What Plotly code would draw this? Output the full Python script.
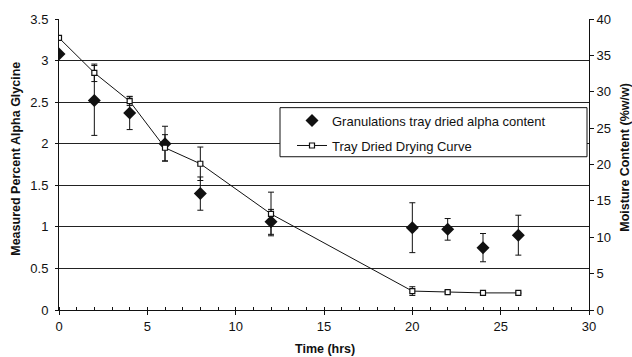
import plotly.graph_objects as go

# Alpha glycine content (left axis)
alpha_time = [0, 2, 4, 6, 8, 12, 20, 22, 24, 26]
alpha_value = [3.08, 2.52, 2.37, 2.00, 1.40, 1.06, 0.99, 0.97, 0.75, 0.90]
alpha_err = [0.0, 0.42, 0.20, 0.21, 0.20, 0.15, 0.30, 0.13, 0.17, 0.24]

# Moisture content drying curve (right axis)
moist_time = [0, 2, 4, 6, 8, 12, 20, 22, 24, 26]
moist_value = [37.4, 32.6, 28.7, 22.3, 20.1, 13.2, 2.6, 2.45, 2.35, 2.35]
moist_err = [0.0, 1.2, 0.6, 1.8, 2.3, 3.0, 0.6, 0.2, 0.1, 0.1]

FONT = "Liberation Sans, Arial, sans-serif"
INK = "#111111"

fig = go.Figure()

fig.add_trace(go.Scatter(
    x=alpha_time, y=alpha_value, mode="markers",
    name="Granulations tray dried alpha content",
    legendgroup="a",
    marker=dict(symbol="diamond", size=10, color=INK),
    error_y=dict(type="data", array=alpha_err, visible=True,
                 color=INK, thickness=1, width=3),
    yaxis="y",
))

fig.add_trace(go.Scatter(
    x=moist_time, y=moist_value, mode="lines+markers",
    name="Tray Dried Drying Curve",
    legendgroup="b",
    line=dict(color=INK, width=1),
    marker=dict(symbol="square", size=5, color="white",
                line=dict(color=INK, width=1.2)),
    error_y=dict(type="data", array=moist_err, visible=True,
                 color=INK, thickness=1, width=3),
    yaxis="y2",
))

fig.update_layout(
    width=632, height=357,
    margin=dict(l=59, r=43, t=19, b=47),
    paper_bgcolor="white", plot_bgcolor="white",
    font=dict(family=FONT, size=13, color=INK),
    showlegend=True,
    legend=dict(
        x=(292 - 59) / 530, xanchor="left", y=(310 - 106) / 290.5, yanchor="top",
        borderwidth=0, bgcolor="rgba(0,0,0,0)",
        font=dict(family=FONT, size=13, color=INK),
        tracegroupgap=5,
    ),
    shapes=[dict(
        type="rect", xref="paper", yref="paper",
        x0=(280 - 59) / 530, x1=(587 - 59) / 530,
        y0=(310 - 157) / 290.5, y1=(310 - 108) / 290.5,
        line=dict(color=INK, width=1), fillcolor="white", layer="above",
    )],
    xaxis=dict(
        range=[0, 30], dtick=5, tick0=0,
        showgrid=False, zeroline=False,
        showline=True, linecolor=INK, linewidth=1,
        ticks="outside", ticklen=4, tickcolor=INK,
        minor=dict(dtick=1, ticks="inside", ticklen=3, tickcolor=INK),
        tickfont=dict(size=13),
    ),
    yaxis=dict(
        range=[0, 3.5], dtick=0.5, tick0=0,
        showgrid=True, gridcolor="#222222", gridwidth=1,
        zeroline=False,
        showline=True, linecolor=INK, linewidth=1,
        ticks="outside", ticklen=3, tickcolor=INK,
        ticklabelstandoff=4,
        tickfont=dict(size=13),
    ),
    yaxis2=dict(
        range=[0, 40], dtick=5, tick0=0,
        overlaying="y", side="right",
        showgrid=False, zeroline=False,
        showline=True, linecolor=INK, linewidth=1,
        ticks="outside", ticklen=4, tickcolor=INK,
        tickfont=dict(size=13),
    ),
    annotations=[
        dict(text="<b>Measured Percent Alpha Glycine</b>", xref="paper", yref="paper",
             x=(16 - 59) / 530, y=(310 - 159) / 290.5, textangle=-90, showarrow=False,
             xanchor="center", yanchor="middle", font=dict(size=12.5)),
        dict(text="<b>Moisture Content (%w/w)</b>", xref="paper", yref="paper",
             x=(625 - 59) / 530, y=(310 - 158) / 290.5, textangle=-90, showarrow=False,
             xanchor="center", yanchor="middle", font=dict(size=12.5)),
        dict(text="<b>Time (hrs)</b>", xref="paper", yref="paper",
             x=(325 - 59) / 530, y=(310 - 349) / 290.5, showarrow=False,
             xanchor="center", yanchor="middle", font=dict(size=12.5)),
    ],
)

fig.write_html(
    "out.html",
    config={"displayModeBar": False},
    post_script="document.body.style.margin='0';document.body.style.padding='0';document.body.style.overflow='hidden';",
)
